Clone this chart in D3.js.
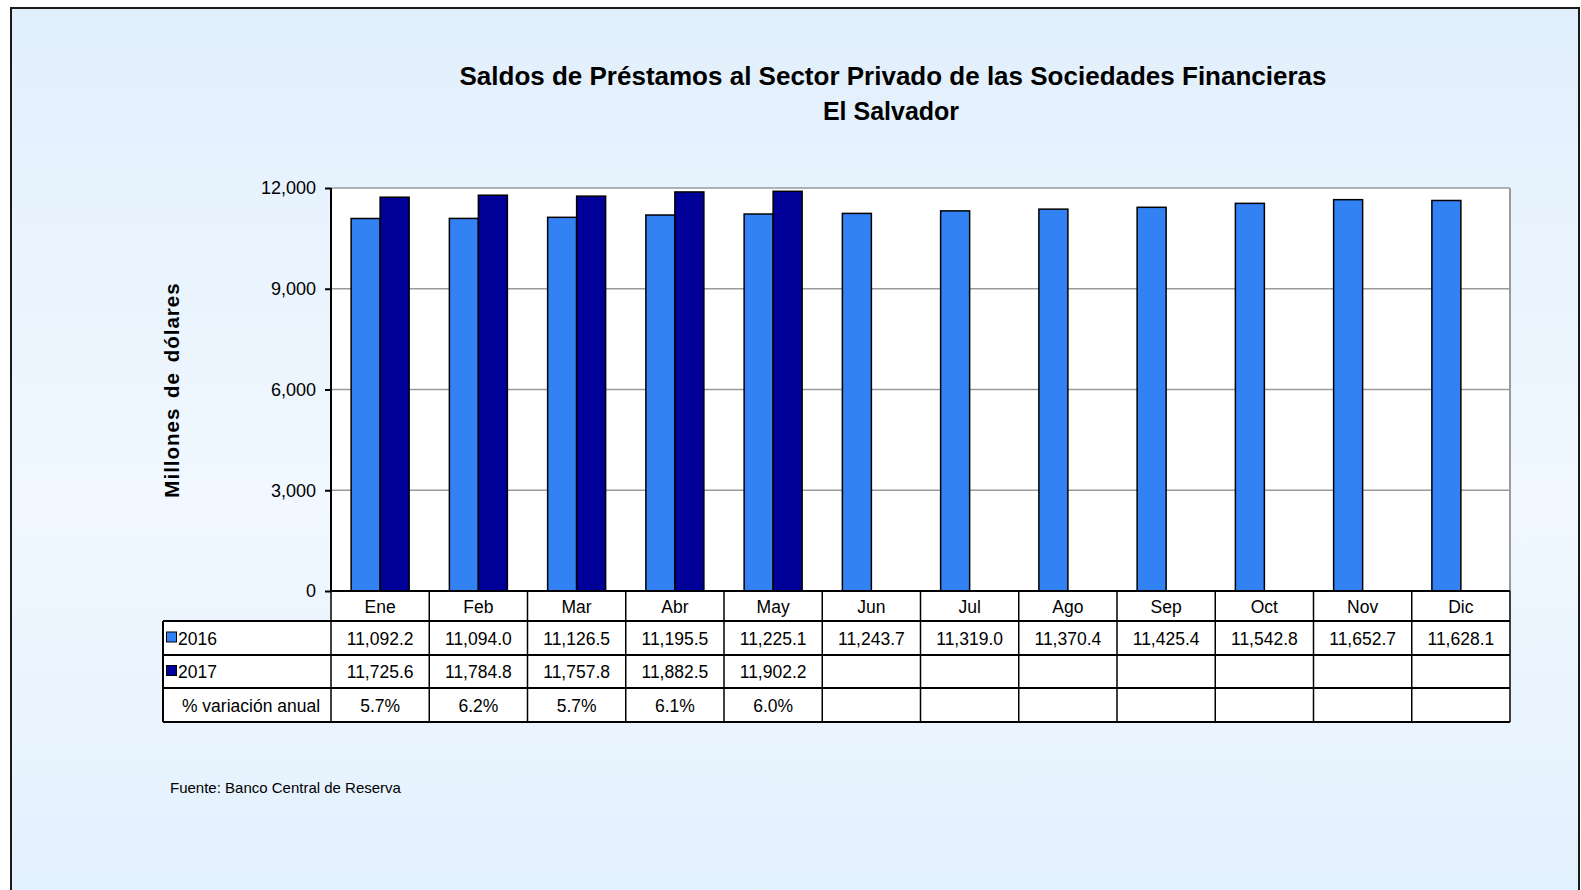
<!DOCTYPE html>
<html>
<head>
<meta charset="utf-8">
<script src="https://cdn.jsdelivr.net/npm/d3@7"></script>
<style>
    html, body { margin: 0; padding: 0; background: #fff; overflow: hidden; }
    text { font-family: "Liberation Sans", Arial, sans-serif; fill: #000; }
</style>
</head>
<body>
<div id="chart"></div>
<script>
// data ==================================================================
var MONTHS  = ['Ene','Feb','Mar','Abr','May','Jun','Jul','Ago','Sep','Oct','Nov','Dic'];
var SERIES  = ['2016','2017'];
var S2016   = [11092.2, 11094.0, 11126.5, 11195.5, 11225.1, 11243.7, 11319.0, 11370.4, 11425.4, 11542.8, 11652.7, 11628.1];
var S2017   = [11725.6, 11784.8, 11757.8, 11882.5, 11902.2];
var VARIA   = ['5.7%','6.2%','5.7%','6.1%','6.0%'];
var Y_TICKS = [0, 3000, 6000, 9000, 12000];

(function(){
    var WIDTH  = 1581,
        HEIGHT = 890;

    // plot area
    var LEFT   = 331,
        RIGHT  = 1510,
        TOP    = 188,
        BOTTOM = 591;

    // table rows
    var ROWS     = [591, 621, 655, 688, 722],
        TABLE_X0 = 163,
        FS       = 17.5,
        COLORS   = { '2016': '#3382f4', '2017': '#000099' };

    var svg, defs;

    document.addEventListener("DOMContentLoaded", function() {

        svg = d3.select('#chart').append('svg')
            .attr('width', WIDTH)
            .attr('height', HEIGHT);

        // background gradient + frame
        defs = svg.append('defs');
        var grad = defs.append('linearGradient')
            .attr('id', 'bg').attr('x1', 0).attr('y1', 0).attr('x2', 0).attr('y2', 1);
        grad.append('stop').attr('offset', '0%').attr('stop-color', '#e1effc');
        grad.append('stop').attr('offset', '55%').attr('stop-color', '#f1f8ff');
        grad.append('stop').attr('offset', '100%').attr('stop-color', '#e2f0fd');

        svg.append('rect')
            .attr('x', 11).attr('y', 8)
            .attr('width', 1568).attr('height', 900)
            .attr('fill', 'url(#bg)')
            .attr('stroke', '#1a1a1a')
            .attr('stroke-width', 2);

        // titles
        svg.append('text')
            .attr('x', 893).attr('y', 85)
            .attr('text-anchor', 'middle')
            .style('font-size', '26px').style('font-weight', 'bold')
            .text('Saldos de Préstamos al Sector Privado de las Sociedades Financieras');

        svg.append('text')
            .attr('x', 891).attr('y', 120)
            .attr('text-anchor', 'middle')
            .style('font-size', '25px').style('font-weight', 'bold')
            .text('El Salvador');

        // y axis title
        svg.append('text')
            .attr('transform', 'translate(179,390) rotate(-90)')
            .attr('text-anchor', 'middle')
            .style('font-size', '20.5px').style('font-weight', 'bold')
            .style('letter-spacing', '1px')
            .style('word-spacing', '3px')
            .text('Millones de dólares');

        drawPlot();
        drawTable();

        // footer
        svg.append('text')
            .attr('x', 170).attr('y', 793)
            .style('font-size', '15px')
            .text('Fuente: Banco Central de Reserva');
    });

    // PLOT ------------------------------------------------------------
    function drawPlot(){
        var x0 = d3.scaleBand().domain(MONTHS).range([LEFT, RIGHT]);
        var bw = x0.bandwidth();
        var x1 = d3.scaleBand().domain(SERIES).range([bw/2 - 29, bw/2 + 29]);
        var y  = d3.scaleLinear().domain([0, 12000]).range([BOTTOM, TOP]);

        svg.append('rect')
            .attr('x', LEFT).attr('y', TOP)
            .attr('width', RIGHT - LEFT).attr('height', BOTTOM - TOP)
            .attr('fill', '#fff');

        // grid
        svg.append('g').attr('class', 'grid')
            .selectAll('line')
            .data(Y_TICKS.slice(1))
            .enter().append('line')
            .attr('x1', LEFT).attr('x2', RIGHT)
            .attr('y1', function(d){ return y(d) })
            .attr('y2', function(d){ return y(d) })
            .attr('stroke', '#9a9a9a')
            .attr('stroke-width', 1.5);

        svg.append('line')
            .attr('x1', RIGHT).attr('x2', RIGHT)
            .attr('y1', TOP).attr('y2', BOTTOM)
            .attr('stroke', '#9a9a9a').attr('stroke-width', 2);

        // bars
        var data = [];
        MONTHS.forEach(function(m, i){
            data.push({ month: m, series: '2016', value: S2016[i] });
            if (S2017[i] != null) data.push({ month: m, series: '2017', value: S2017[i] });
        });

        svg.append('g').attr('class', 'bars')
            .selectAll('rect')
            .data(data)
            .enter().append('rect')
            .attr('x', function(d){ return x0(d.month) + x1(d.series) })
            .attr('y', function(d){ return y(d.value) })
            .attr('width', x1.bandwidth())
            .attr('height', function(d){ return y(0) - y(d.value) })
            .attr('fill', function(d){ return COLORS[d.series] })
            .attr('stroke', '#000')
            .attr('stroke-width', 1.5);

        // y axis
        var axis = svg.append('g')
            .attr('transform', 'translate(' + LEFT + ',0)')
            .call(d3.axisLeft(y).tickValues(Y_TICKS).tickSize(6).tickPadding(9)
                .tickFormat(d3.format(',')));
        axis.select('.domain').attr('stroke', '#000').attr('stroke-width', 2)
            .attr('d', 'M0,' + TOP + 'V' + BOTTOM);
        axis.selectAll('.tick line').attr('stroke', '#000').attr('stroke-width', 2);
        axis.selectAll('.tick text')
            .attr('fill', '#000')
            .style('font-size', '18px')
            .style('font-family', '"Liberation Sans", Arial, sans-serif');
    }

    // TABLE -----------------------------------------------------------
    function drawTable(){
        var x0 = d3.scaleBand().domain(MONTHS).range([LEFT, RIGHT]);
        var g  = svg.append('g').attr('class', 'table');

        // cells background
        g.append('rect')
            .attr('x', TABLE_X0).attr('y', ROWS[1])
            .attr('width', LEFT - TABLE_X0).attr('height', ROWS[4] - ROWS[1])
            .attr('fill', '#fff');
        g.append('rect')
            .attr('x', LEFT).attr('y', ROWS[0])
            .attr('width', RIGHT - LEFT).attr('height', ROWS[4] - ROWS[0])
            .attr('fill', '#fff');

        // horizontal lines
        g.selectAll('line.h')
            .data(ROWS)
            .enter().append('line')
            .attr('class', 'h')
            .attr('x1', function(d, i){ return i === 0 ? LEFT : TABLE_X0 })
            .attr('x2', RIGHT)
            .attr('y1', function(d){ return d })
            .attr('y2', function(d){ return d })
            .attr('stroke', '#000').attr('stroke-width', 2);

        // vertical lines
        var vx = MONTHS.map(function(m){ return x0(m) }).concat([RIGHT]);
        g.selectAll('line.v')
            .data(vx)
            .enter().append('line')
            .attr('class', 'v')
            .attr('x1', function(d){ return d }).attr('x2', function(d){ return d })
            .attr('y1', ROWS[0]).attr('y2', ROWS[4])
            .attr('stroke', '#000').attr('stroke-width', 1.5);
        g.append('line')
            .attr('x1', TABLE_X0).attr('x2', TABLE_X0)
            .attr('y1', ROWS[1]).attr('y2', ROWS[4])
            .attr('stroke', '#000').attr('stroke-width', 2);

        function rowText(vals, r){
            g.append('g').selectAll('text')
                .data(vals)
                .enter().append('text')
                .attr('x', function(d, i){ return x0(MONTHS[i]) + x0.bandwidth()/2 })
                .attr('y', (ROWS[r] + ROWS[r+1]) / 2 + 6.5)
                .attr('text-anchor', 'middle')
                .style('font-size', FS + 'px')
                .text(function(d){ return d });
        }
        var fmt = d3.format(',.1f');
        rowText(MONTHS, 0);
        rowText(S2016.map(fmt), 1);
        rowText(S2017.map(fmt), 2);
        rowText(VARIA, 3);

        // legend labels
        SERIES.forEach(function(s, i){
            var cy = (ROWS[i+1] + ROWS[i+2]) / 2;
            g.append('rect')
                .attr('x', 166.5).attr('y', cy - 6)
                .attr('width', 10).attr('height', 10)
                .attr('fill', COLORS[s])
                .attr('stroke', '#000').attr('stroke-width', 1);
            g.append('text')
                .attr('x', 178).attr('y', cy + 6.5)
                .style('font-size', FS + 'px')
                .text(s);
        });

        g.append('text')
            .attr('x', 251).attr('y', (ROWS[3] + ROWS[4]) / 2 + 6.5)
            .attr('text-anchor', 'middle')
            .style('font-size', FS + 'px')
            .text('% variación anual');
    }

})();
</script>
</body>
</html>
